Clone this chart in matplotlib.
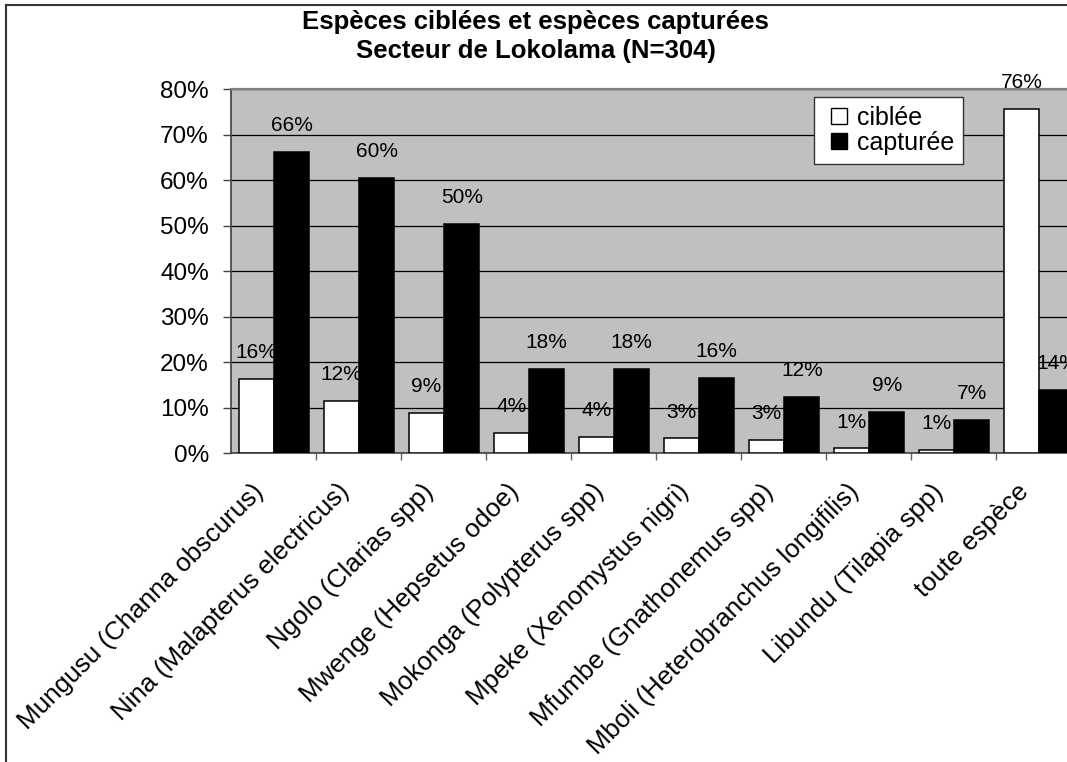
import numpy as np
import matplotlib
matplotlib.use("Agg")
import matplotlib.pyplot as plt
import matplotlib.transforms as mtransforms
from matplotlib.lines import Line2D

plt.rcParams['font.family'] = ['Liberation Sans', 'DejaVu Sans']

# species (local name + latin name) and share of fishers, in %
especes = ["Mungusu (Channa obscurus)", "Nina (Malapterus electricus)",
           "Ngolo (Clarias spp)", "Mwenge (Hepsetus odoe)",
           "Mokonga (Polypterus spp)", "Mpeke (Xenomystus nigri)",
           "Mfumbe (Gnathonemus spp)", "Mboli (Heterobranchus longifilis)",
           "Libundu (Tilapia spp)", "toute espèce"]
ciblee = [16.3, 11.5, 8.8, 4.4, 3.6, 3.2, 2.8, 1.0, 0.6, 75.7]
capturee = [66.1, 60.4, 50.3, 18.4, 18.4, 16.4, 12.4, 9.0, 7.2, 13.8]
yticks = [0, 10, 20, 30, 40, 50, 60, 70, 80]

fig = plt.figure(figsize=(10.67, 7.62), dpi=100)
ax = fig.add_axes([0.2165, 0.4055, 0.7967, 0.4777])
ax.set_facecolor('#C0C0C0')

x = np.arange(len(especes))
w = 0.415
b1 = ax.bar(x - w / 2 + 0.007, ciblee, w, color='white', edgecolor='black',
            linewidth=1.1, zorder=3)
b2 = ax.bar(x + w / 2 + 0.007, capturee, w, color='black', edgecolor='black',
            linewidth=1.1, zorder=3)

# value labels sit under the bars, so the next bar hides part of them
for bars, vals in ((b1, ciblee), (b2, capturee)):
    for rect, v in zip(bars, vals):
        ax.annotate(f"{v:.0f}%", (rect.get_x() + rect.get_width() / 2, v),
                    xytext=(0, 19), textcoords='offset points',
                    ha='center', va='center', fontsize=15, zorder=2.5,
                    annotation_clip=False)

ax.set_xlim(-0.5, len(especes) - 0.5)
ax.set_ylim(0, 80)
ax.set_yticks(yticks)
ax.set_yticklabels([f"{t}%" for t in yticks], fontsize=17.5)
ax.tick_params(axis='y', direction='out', length=6, width=1, color='#404040', pad=10)

ax.set_xticks(x)
ax.set_xticklabels(especes, rotation=45, ha='right', va='top', fontsize=18.7)
ax.tick_params(axis='x', which='major', length=0, pad=19)
ax.set_xticks(np.arange(len(especes)) + 0.5, minor=True)
ax.tick_params(axis='x', which='minor', direction='out', length=5, width=1,
               color='#606060')
# nudge the slanted names a little to the left
shift = mtransforms.ScaledTranslation(-5 / 100, 0, fig.dpi_scale_trans)
for lbl in ax.get_xticklabels():
    lbl.set_transform(lbl.get_transform() + shift)

ax.set_axisbelow(True)
ax.yaxis.grid(True, color='black', linewidth=0.9)
ax.spines['top'].set_color('#808080')
ax.spines['top'].set_linewidth(1.6)
ax.spines['left'].set_color('#404040')
ax.spines['left'].set_linewidth(1.2)
ax.spines['bottom'].set_color('#404040')
ax.spines['bottom'].set_linewidth(1.2)
ax.spines['right'].set_visible(False)
for s in ax.spines.values():
    s.set_zorder(1)

handles = [Line2D([], [], marker='s', markersize=11, linestyle='none',
                  markerfacecolor=c, markeredgecolor='black', markeredgewidth=1.0)
           for c in ('white', 'black')]
leg = ax.legend(handles, ['ciblée', 'capturée'], loc='upper right',
                bbox_to_anchor=(0.861, 0.978), fontsize=18,
                frameon=True, fancybox=False, framealpha=1, edgecolor='#333333',
                handlelength=1.32, handletextpad=0.05,
                labelspacing=0.05, borderpad=0.35, borderaxespad=0)
leg.get_frame().set_linewidth(1.0)
leg.set_zorder(5)

fig.text(0.502, 1 - 10 / 762, "Espèces ciblées et espèces capturées\nSecteur de Lokolama (N=304)",
         ha='center', va='top', fontsize=18.5, fontweight='bold', linespacing=1.25)

# outer chart frame (left and top edges)
fig.add_artist(Line2D([6 / 1067, 6 / 1067], [0, 1 - 5 / 762], color='#333333', linewidth=1.5))
fig.add_artist(Line2D([6 / 1067, 1], [1 - 5 / 762, 1 - 5 / 762], color='#333333', linewidth=1.5))

fig.savefig("out.png", dpi=100)
